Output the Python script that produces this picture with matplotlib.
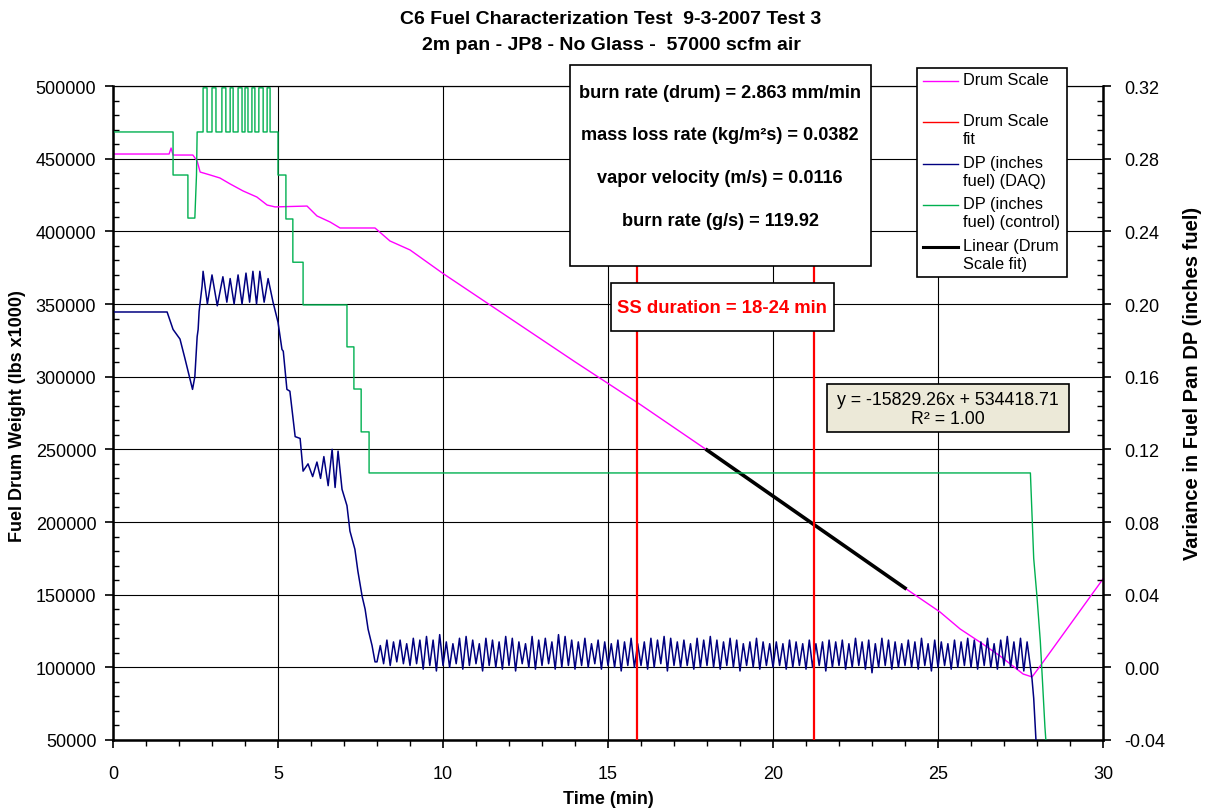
import matplotlib.pyplot as plt
from matplotlib.patches import Rectangle
from matplotlib.lines import Line2D
from matplotlib.ticker import MultipleLocator, FormatStrFormatter

plt.rcParams['font.family'] = ['Liberation Sans', 'DejaVu Sans']

W, H = 1211, 812

# Drum scale weight (lbs x1000), left axis
drum_t = [0.0, 1.70, 1.76, 1.82, 2.42, 2.55, 2.64, 2.94, 3.24, 3.55, 3.94, 4.36, 4.67,
          4.91, 5.88, 6.18, 6.58, 6.88, 7.94, 8.39, 9.0, 10.0, 12.0, 14.0, 16.0, 18.0,
          20.0, 22.0, 24.0, 25.06, 25.67, 26.27, 26.88, 27.58, 27.85, 28.1, 30.0]
drum_w = [453200, 453200, 457300, 452500, 452500, 448400, 440800, 438800, 436700, 432600,
          427800, 423600, 418100, 416800, 417400, 410600, 406400, 402300, 402300, 393400,
          387200, 371000, 340600, 310200, 280500, 249500, 218000, 186200, 154500, 138100,
          126400, 117400, 107800, 95400, 93400, 101000, 160800]

# linear trendline of the drum scale fit (18-24 min)
fit_t = [18.0, 24.0]
fit_slope, fit_icpt = -15829.26, 534418.71

# steady-state markers
ss_lines = [15.88, 21.24]

# DP (DAQ), right axis, start-up part
daq_t = [0.0, 1.64, 1.82, 2.03, 2.18, 2.33, 2.41, 2.48, 2.55, 2.58, 2.61, 2.70, 2.73,
         2.86, 3.0, 3.16, 3.33, 3.45, 3.55, 3.67, 3.79, 3.91, 4.03, 4.14, 4.24, 4.35,
         4.45, 4.58, 4.70, 4.85, 5.0, 5.12, 5.16, 5.27, 5.36, 5.52, 5.67, 5.76, 5.91,
         6.05, 6.18, 6.29, 6.39, 6.52, 6.64, 6.73, 6.82, 6.94, 7.09, 7.18, 7.33, 7.42,
         7.55, 7.64, 7.73, 7.85, 7.94]
daq_v = [0.1956, 0.1956, 0.186, 0.1807, 0.170, 0.159, 0.153, 0.160, 0.182, 0.186, 0.196,
         0.210, 0.218, 0.200, 0.216, 0.199, 0.215, 0.201, 0.214, 0.200, 0.216, 0.200,
         0.217, 0.201, 0.218, 0.200, 0.218, 0.201, 0.214, 0.201, 0.190, 0.175, 0.174,
         0.153, 0.152, 0.127, 0.126, 0.108, 0.112, 0.105, 0.113, 0.104, 0.116, 0.100,
         0.120, 0.099, 0.119, 0.098, 0.089, 0.075, 0.065, 0.053, 0.039, 0.032, 0.021,
         0.012, 0.003]

# DP (DAQ) oscillation 8-27.7 min, peaks and troughs (x0.001 inches)
osc_start, osc_step = 8.0, 0.1
osc_troughs = [3, 2, 1, 3, 2, 1, 2, -1, 1, -2,
               1, 0, 2, -1, 1, 2, -2, 1, 0, -1,
               1, -2, 2, 0, -1, 1, 2, -1, 0, 1,
               -1, 1, 0, 2, -1, 1, 0, -2, 1, 0,
               1, -1, 0, 2, -2, 1, 0, 1, -1, 0,
               1, 0, -1, 1, 0, -2, 1, 0, -1, 1,
               0, 1, -1, 0, 1, -1, 0, 1, -2, 0,
               1, -1, 0, 1, -1, -3, 0, 1, -1, 0,
               1, 0, -1, 1, -2, 0, 1, -1, 0, 1,
               0, -1, 1, 0, -1, 1, 0, -1, -2]
osc_peaks = [12, 15, 14, 15, 13, 16, 15, 17, 15, 18,
             14, 13, 16, 17, 15, 13, 16, 15, 14, 17,
             16, 14, 13, 17, 15, 16, 14, 18, 17, 15,
             14, 16, 13, 15, 14, 13, 15, 14, 16, 13,
             14, 16, 15, 17, 16, 14, 15, 13, 16, 15,
             17, 15, 14, 16, 15, 13, 14, 16, 14, 13,
             14, 13, 15, 14, 13, 15, 13, 14, 15, 14,
             15, 13, 16, 14, 15, 13, 16, 15, 14, 13,
             15, 14, 16, 13, 15, 14, 13, 15, 14, 16,
             15, 14, 16, 13, 15, 17, 14, 16, 14]
daq_end_t = [27.8, 27.85, 27.9, 27.97, 28.1, 30.0]
daq_end_v = [0.0, -0.0066, -0.017, -0.0405, -0.06, -0.06]

# DP (control), right axis
ctl_t = [0.0, 1.82, 1.82, 2.27, 2.27, 2.48, 2.53, 2.55, 2.58,
         2.73, 2.73, 2.85, 2.85, 3.0, 3.0, 3.12, 3.12, 3.30, 3.30, 3.42, 3.42,
         3.55, 3.55, 3.64, 3.64, 3.79, 3.79, 3.91, 3.91, 4.0, 4.0, 4.09, 4.09,
         4.21, 4.21, 4.30, 4.30, 4.42, 4.42, 4.55, 4.55, 4.67, 4.67, 4.76, 4.76,
         5.0, 5.0, 5.24, 5.24, 5.45, 5.45, 5.76, 5.76, 7.09, 7.09, 7.30, 7.30,
         7.52, 7.52, 7.76, 7.76, 27.8, 27.9, 28.0, 28.1, 28.17, 28.24, 28.27, 28.4, 30.0]
ctl_v = [0.2947, 0.2947, 0.271, 0.271, 0.2473, 0.2473, 0.271, 0.2947, 0.2947,
         0.2947, 0.319, 0.319, 0.2947, 0.2947, 0.319, 0.319, 0.2947, 0.2947, 0.319, 0.319, 0.2947,
         0.2947, 0.319, 0.319, 0.2947, 0.2947, 0.319, 0.319, 0.2947, 0.2947, 0.319, 0.319, 0.2947,
         0.2947, 0.319, 0.319, 0.2947, 0.2947, 0.319, 0.319, 0.2947, 0.2947, 0.319, 0.319, 0.2947,
         0.2947, 0.271, 0.271, 0.2468, 0.2468, 0.223, 0.223, 0.1995, 0.1995, 0.1764, 0.1764, 0.1532,
         0.1532, 0.1296, 0.1296, 0.107, 0.107, 0.060, 0.0387, 0.0145, -0.009, -0.0328, -0.0405, -0.06, -0.06]

MAGENTA, RED, NAVY, GREEN = '#FF00FF', '#FF0000', '#000080', '#00B050'

# build the DAQ trace
osc_t, osc_v = [], []
for i in range(len(osc_troughs)):
    osc_t.append(osc_start + 2 * i * osc_step)
    osc_v.append(osc_troughs[i] / 1000)
    osc_t.append(osc_start + (2 * i + 1) * osc_step)
    osc_v.append(osc_peaks[i] / 1000)
daq_all_t = daq_t + osc_t + daq_end_t
daq_all_v = daq_v + osc_v + daq_end_v

fig = plt.figure(figsize=(W / 100, H / 100), dpi=100)
ax = fig.add_axes([113 / W, 1 - 741 / H, (1103 - 113) / W, (741 - 87) / H])
ax2 = ax.twinx()

ax.plot(drum_t, drum_w, color=MAGENTA, lw=1.0)
ax.plot(fit_t, [fit_slope * t + fit_icpt for t in fit_t], color=RED, lw=1.0)
ax.plot(fit_t, [fit_slope * t + fit_icpt for t in fit_t], color='black', lw=2.6, zorder=4)

ax2.plot(daq_all_t, daq_all_v, color=NAVY, lw=1.1)
ax2.plot(ctl_t, ctl_v, color=GREEN, lw=1.0)
for x in ss_lines:
    ax2.axvline(x, color=RED, lw=1.6, zorder=5)

ax.set_xlim(0, 30)
ax.set_ylim(50000, 500000)
ax2.set_ylim(-0.04, 0.32)
ax.xaxis.set_major_locator(MultipleLocator(5))
ax.xaxis.set_minor_locator(MultipleLocator(1))
ax.yaxis.set_major_locator(MultipleLocator(50000))
ax.yaxis.set_minor_locator(MultipleLocator(10000))
ax2.yaxis.set_major_locator(MultipleLocator(0.04))
ax2.yaxis.set_minor_locator(MultipleLocator(0.008))
ax2.yaxis.set_major_formatter(FormatStrFormatter('%.2f'))

ax.grid(True, which='major', color='black', lw=0.8)
for a in (ax, ax2):
    a.tick_params(which='major', direction='out', length=6, width=1.2, labelsize=13)
    a.tick_params(which='minor', direction='in', length=4, width=1.0)
    for s in a.spines.values():
        s.set_linewidth(0.8)
ax.tick_params(axis='y', which='major', pad=6)
ax2.tick_params(axis='y', which='major', pad=9)
ax.tick_params(axis='x', which='major', pad=12)
ax.tick_params(axis='x', which='minor', direction='out', length=4)
ax.spines['left'].set_linewidth(1.8)
ax.spines['bottom'].set_linewidth(1.8)
ax2.spines['right'].set_linewidth(1.8)

# titles and axis labels
fig.text(611 / W, 1 - 20 / H, 'C6 Fuel Characterization Test  9-3-2007 Test 3',
         ha='center', va='center', fontsize=14, fontweight='bold')
fig.text(611 / W, 1 - 45 / H, '2m pan - JP8 - No Glass -  57000 scfm air',
         ha='center', va='center', fontsize=14, fontweight='bold')
fig.text(608 / W, 1 - 800 / H, 'Time (min)', ha='center', va='center',
         fontsize=13, fontweight='bold')
fig.text(18 / W, 1 - 416 / H, 'Fuel Drum Weight (lbs x1000)', ha='center', va='center',
         rotation=90, fontsize=13, fontweight='bold')
fig.text(1193 / W, 1 - 383 / H, 'Variance in Fuel Pan DP (inches fuel)', ha='center',
         va='center', rotation=90, fontsize=14.5, fontweight='bold')


def box(x0, y0, x1, y1, fc='white'):
    fig.add_artist(Rectangle((x0 / W, 1 - y1 / H), (x1 - x0) / W, (y1 - y0) / H,
                             transform=fig.transFigure, facecolor=fc,
                             edgecolor='black', lw=1.2, zorder=6))


# results box
box(570, 66, 871, 267)
results = ['burn rate (drum) = 2.863 mm/min', 'mass loss rate (kg/m²s) = 0.0382',
           'vapor velocity (m/s) = 0.0116', 'burn rate (g/s) = 119.92']
for i, s in enumerate(results):
    fig.text(720 / W, 1 - (93 + 42.7 * i) / H, s, ha='center', va='center',
             fontsize=13.1, fontweight='bold', zorder=7)

# steady-state box
box(611, 284, 834, 332)
fig.text(722 / W, 1 - 309 / H, 'SS duration = 18-24 min', ha='center', va='center',
         fontsize=13.3, fontweight='bold', color=RED, zorder=7)

# trendline equation box
box(827, 385, 1069, 433, fc='#ECE9D8')
fig.text(948 / W, 1 - 401 / H, 'y = -15829.26x + 534418.71', ha='center', va='center',
         fontsize=12.8, zorder=7)
fig.text(948 / W, 1 - 420 / H, 'R² = 1.00', ha='center', va='center',
         fontsize=12.8, zorder=7)

# legend
box(917, 69, 1067, 278)
leg_items = [('Drum Scale', MAGENTA, 1.0, 82), ('Drum Scale\nfit', RED, 1.0, 123),
             ('DP (inches\nfuel) (DAQ)', NAVY, 1.0, 165),
             ('DP (inches\nfuel) (control)', GREEN, 1.0, 206),
             ('Linear (Drum\nScale fit)', 'black', 2.2, 248)]
for label, col, lw, yy in leg_items:
    fig.add_artist(Line2D([923 / W, 958 / W], [1 - yy / H, 1 - yy / H], color=col,
                          lw=lw, transform=fig.transFigure, zorder=7))
    fig.text(963 / W, 1 - (yy - 9) / H, label, ha='left', va='top', fontsize=11.8,
             linespacing=1.25, zorder=7)

fig.savefig('out.png', dpi=100)
